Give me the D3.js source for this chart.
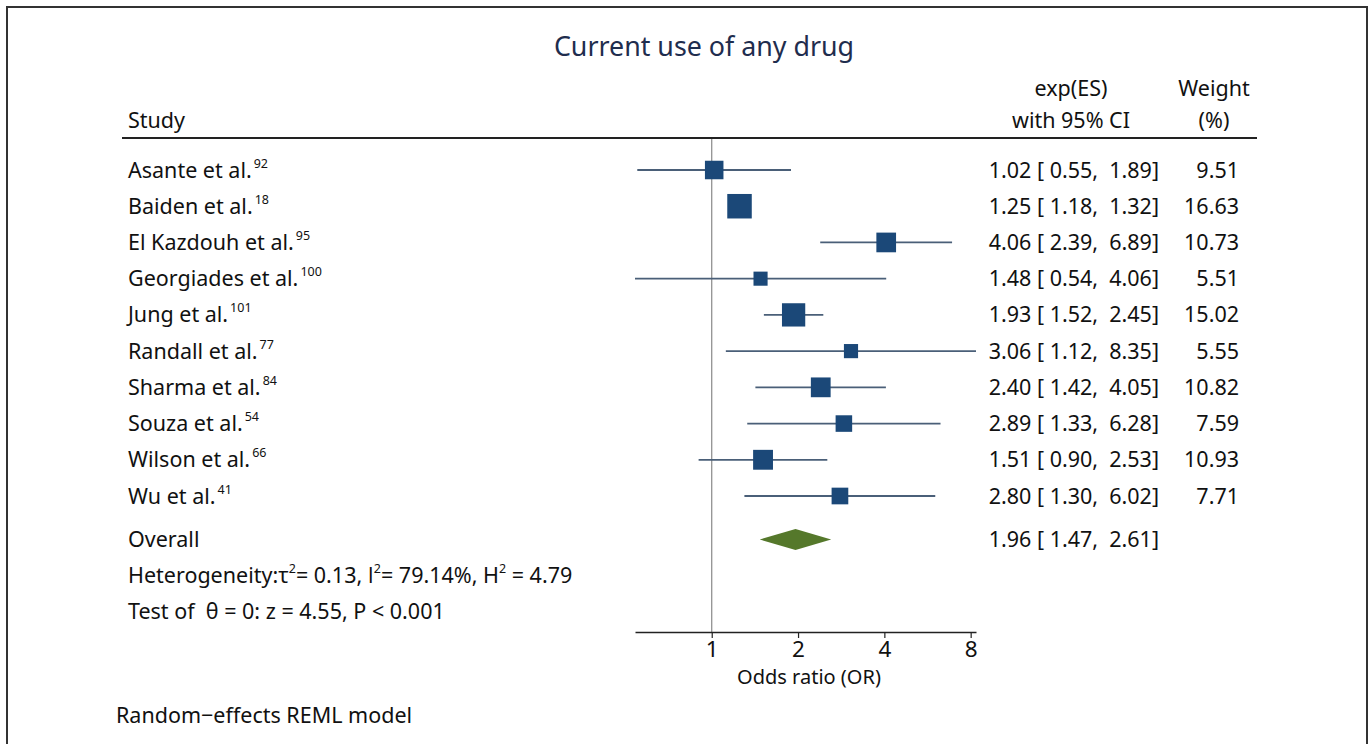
<!DOCTYPE html>
<html lang="en">
  <head>
    <meta charset="UTF-8">
    <title>Current use of any drug</title>
    <script src="https://cdn.jsdelivr.net/npm/d3@7"></script>
    <style>
body{
    margin: 0;
    background: #fff;
}
svg{
    font-family: "Noto Sans", "Open Sans", sans-serif;
}
    </style>
  </head>
  <body>
    <script>
// study rows
var studies = ["Asante et al.", "Baiden et al.", "El Kazdouh et al.", "Georgiades et al.", "Jung et al.",
               "Randall et al.", "Sharma et al.", "Souza et al.", "Wilson et al.", "Wu et al."];
var refs = ["92", "18", "95", "100", "101", "77", "84", "54", "66", "41"];
var es = [1.02, 1.25, 4.06, 1.48, 1.93, 3.06, 2.40, 2.89, 1.51, 2.80];
var lower = [0.55, 1.18, 2.39, 0.54, 1.52, 1.12, 1.42, 1.33, 0.90, 1.30];
var upper = [1.89, 1.32, 6.89, 4.06, 2.45, 8.35, 4.05, 6.28, 2.53, 6.02];
var weights = [9.51, 16.63, 10.73, 5.51, 15.02, 5.55, 10.82, 7.59, 10.93, 7.71];
var overall = [1.96, 1.47, 2.61];
var ticks = [1, 2, 4, 8];

var width = 1370, height = 744, fs = 21.5;
var fmt = d3.format(".2f");

var svg = d3.select("body").append("svg")
            .attr("width", width)
            .attr("height", height);

// frame
svg.append("path")
   .attr("d", "M7,744 V7 H1367 V744")
   .attr("fill", "none")
   .attr("stroke", "#333")
   .attr("stroke-width", 2);

var x = d3.scaleLog().base(2)
          .domain([d3.min(lower), d3.max(upper)])
          .range([635, 976]);
var y = d3.scaleLinear().domain([0, 9]).range([170, 496]);
var size = d3.scaleSqrt().domain([0, d3.max(weights)]).range([0, 24.5]);

svg.append("text")
   .attr("x", 704).attr("y", 47).attr("dy", "0.35em")
   .attr("text-anchor", "middle")
   .attr("font-size", 26.8)
   .attr("fill", "#1f2d4e")
   .text("Current use of any drug");

// headers
var head = svg.append("g").attr("font-size", fs).attr("fill", "#111");
head.append("text").attr("x", 128).attr("y", 128).text("Study");
head.append("text").attr("x", 1071).attr("y", 96).attr("text-anchor", "middle").text("exp(ES)");
head.append("text").attr("x", 1071).attr("y", 128).attr("text-anchor", "middle").text("with 95% CI");
head.append("text").attr("x", 1214).attr("y", 96).attr("text-anchor", "middle").text("Weight");
head.append("text").attr("x", 1214).attr("y", 128).attr("text-anchor", "middle").text("(%)");

svg.append("line")
   .attr("x1", 122).attr("x2", 1257)
   .attr("y1", 138).attr("y2", 138)
   .attr("stroke", "#222").attr("stroke-width", 2);

// reference line at 1
svg.append("line")
   .attr("x1", x(1)).attr("x2", x(1))
   .attr("y1", 139).attr("y2", 632)
   .attr("stroke", "#888").attr("stroke-width", 1.2);

// study rows
var rows = svg.selectAll("g.row")
              .data(studies)
              .enter().append("g")
              .attr("class", "row")
              .attr("transform", function(d, i){ return "translate(0," + y(i) + ")"; });

rows.append("line")
    .attr("x1", function(d, i){ return x(lower[i]); })
    .attr("x2", function(d, i){ return x(upper[i]); })
    .attr("stroke", "#4a5f78")
    .attr("stroke-width", 1.8);

rows.append("rect")
    .attr("x", function(d, i){ return x(es[i]) - size(weights[i]) / 2; })
    .attr("y", function(d, i){ return -size(weights[i]) / 2; })
    .attr("width", function(d, i){ return size(weights[i]); })
    .attr("height", function(d, i){ return size(weights[i]); })
    .attr("fill", "#1b4878");

var label = rows.append("text")
    .attr("x", 128).attr("dy", "0.35em")
    .attr("font-size", fs).attr("fill", "#111");
label.append("tspan").text(function(d){ return d; });
label.append("tspan")
     .attr("dx", 2).attr("dy", -10)
     .attr("font-size", 12.5)
     .text(function(d, i){ return refs[i]; });

rows.append("text")
    .attr("x", 1159).attr("dy", "0.35em")
    .attr("text-anchor", "end")
    .attr("font-size", fs).attr("fill", "#111")
    .attr("xml:space", "preserve")
    .text(function(d, i){ return fmt(es[i]) + " [ " + fmt(lower[i]) + ",  " + fmt(upper[i]) + "]"; });

rows.append("text")
    .attr("x", 1239).attr("dy", "0.35em")
    .attr("text-anchor", "end")
    .attr("font-size", fs).attr("fill", "#111")
    .text(function(d, i){ return fmt(weights[i]); });

// overall
var oy = y(10.2);
svg.append("path")
   .attr("d", "M" + x(overall[1]) + "," + oy +
              " L" + x(overall[0]) + "," + (oy - 10.5) +
              " L" + x(overall[2]) + "," + oy +
              " L" + x(overall[0]) + "," + (oy + 10.5) + "Z")
   .attr("fill", "#55782b");

var foot = svg.append("g").attr("font-size", fs).attr("fill", "#111");
foot.append("text").attr("x", 128).attr("y", oy).attr("dy", "0.35em").text("Overall");
foot.append("text").attr("x", 1159).attr("y", oy).attr("dy", "0.35em")
    .attr("text-anchor", "end").attr("xml:space", "preserve")
    .text(fmt(overall[0]) + " [ " + fmt(overall[1]) + ",  " + fmt(overall[2]) + "]");

var het = foot.append("text").attr("x", 128).attr("y", y(11.2) + 7.5);
het.append("tspan").text("Heterogeneity:τ");
het.append("tspan").attr("dy", -10).attr("font-size", 12.5).text("2");
het.append("tspan").attr("dy", 10).text("= 0.13, ");
het.append("tspan").attr("font-family", "Open Sans, sans-serif").text("I");
het.append("tspan").attr("dy", -10).attr("font-size", 12.5).text("2");
het.append("tspan").attr("dy", 10).text("= 79.14%, H");
het.append("tspan").attr("dy", -10).attr("font-size", 12.5).text("2");
het.append("tspan").attr("dy", 10).text(" = 4.79");

foot.append("text").attr("x", 128).attr("y", y(12.2)).attr("dy", "0.35em")
    .attr("xml:space", "preserve")
    .text("Test of  θ = 0: z = 4.55, P < 0.001");

// axis
var axis = svg.append("g")
              .attr("transform", "translate(0,632)")
              .call(d3.axisBottom(x).tickValues(ticks).tickFormat(d3.format("d")).tickSize(6).tickSizeOuter(0));
axis.select(".domain").attr("stroke", "#222").attr("stroke-width", 1.5);
axis.selectAll(".tick line").attr("stroke", "#222").attr("stroke-width", 1.2);
axis.selectAll(".tick text")
    .attr("font-family", "Noto Sans, sans-serif")
    .attr("font-size", 22.5).attr("fill", "#111").attr("y", 9);

svg.append("text")
   .attr("x", 809).attr("y", 677).attr("dy", "0.35em")
   .attr("text-anchor", "middle")
   .attr("font-size", 20).attr("fill", "#111")
   .text("Odds ratio (OR)");

svg.append("text")
   .attr("x", 116).attr("y", 715).attr("dy", "0.35em")
   .attr("font-size", fs).attr("fill", "#111")
   .text("Random−effects REML model");
    </script>
  </body>
</html>
